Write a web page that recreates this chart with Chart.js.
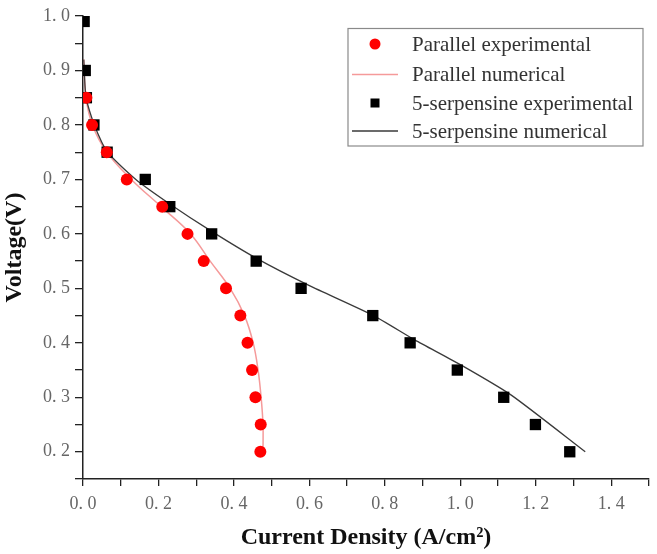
<!DOCTYPE html>
<html>
<head>
<meta charset="utf-8">
<script src="https://cdn.jsdelivr.net/npm/chart.js@4"></script>
<style>
  html,body{margin:0;padding:0;background:#fff;}
  #wrap{width:657px;height:554px;position:relative;}
</style>
</head>
<body>
<div id="wrap"><canvas id="ivChart"></canvas></div>
<script>
// ── Data ─────────────────────────────────────────────────
const parExpX = [0.009,0.024,0.063,0.116,0.21,0.277,0.32,0.379,0.417,0.436,0.448,0.457,0.471,0.470];
const parExpY = [0.85,0.80,0.75,0.70,0.65,0.60,0.55,0.50,0.45,0.40,0.35,0.30,0.25,0.20];

const parNumX = [0.002,0.008,0.025,0.063,0.128,0.207,0.285,0.337,0.39,0.428,0.451,0.464,0.472,0.477,0.477];
const parNumY = [0.92,0.85,0.80,0.75,0.70,0.65,0.60,0.55,0.50,0.45,0.40,0.35,0.30,0.25,0.20];

const serExpX = [0.003,0.006,0.009,0.029,0.064,0.165,0.230,0.341,0.459,0.578,0.768,0.867,0.992,1.115,1.199,1.29];
const serExpY = [0.99,0.90,0.85,0.80,0.75,0.70,0.65,0.60,0.55,0.50,0.45,0.40,0.35,0.30,0.25,0.20];

const serNumX = [0.002,0.008,0.03,0.065,0.14,0.23,0.34,0.46,0.60,0.77,0.88,1.0,1.135,1.331];
const serNumY = [0.92,0.85,0.80,0.75,0.70,0.655,0.605,0.555,0.505,0.45,0.405,0.36,0.304,0.20];

const xTicks = [0.0,0.2,0.4,0.6,0.8,1.0,1.2,1.4];
const yTicks = [0.2,0.3,0.4,0.5,0.6,0.7,0.8,0.9,1.0];

const LABELS = ["Parallel experimental","Parallel numerical","5-serpensine experimental","5-serpensine numerical"];

const SERIF = "'Liberation Serif','Times New Roman',serif";
const pts = (xs, ys) => xs.map((x,i)=>({x, y:ys[i]}));
const fmt = v => v.toFixed(1).replace(".", ". ");
const isTick = (list, v) => list.some(t => Math.abs(t - v) < 1e-6);

// ── Legend box drawn inside plot ─────────────────────────
const legendBox = {
  id: "legendBox",
  afterDraw(chart) {
    const ctx = chart.ctx;
    const ds = chart.data.datasets;
    ctx.save();
    ctx.strokeStyle = "#8a8a8a"; ctx.lineWidth = 1.2;
    ctx.strokeRect(348, 28.5, 295, 117.5);
    const rows = [44, 74.5, 103, 131];
    ctx.font = "21px " + SERIF;
    ctx.textBaseline = "middle";
    ds.forEach((d, i) => {
      const y = rows[i];
      if (d.showLine) {
        ctx.strokeStyle = d.borderColor; ctx.lineWidth = d.borderWidth;
        ctx.beginPath(); ctx.moveTo(352, y); ctx.lineTo(398, y); ctx.stroke();
      } else if (d.pointStyle === "circle") {
        ctx.fillStyle = d.backgroundColor;
        ctx.beginPath(); ctx.arc(375, y, 5.5, 0, Math.PI*2); ctx.fill();
      } else {
        ctx.fillStyle = d.backgroundColor;
        ctx.fillRect(370.5, y-4.5, 9, 9);
      }
      ctx.fillStyle = "#333";
      ctx.fillText(d.label, 412, y + 1);
    });
    ctx.restore();
  }
};

new Chart(document.getElementById("ivChart"), {
  type: "scatter",
  data: {
    datasets: [
      { label:LABELS[0], data:pts(parExpX,parExpY), pointStyle:"circle", pointRadius:6,
        backgroundColor:"#ff0000", borderColor:"#ff0000", borderWidth:0, showLine:false, order:1 },
      { label:LABELS[1], data:pts(parNumX,parNumY), showLine:true, pointRadius:0, tension:0.4,
        borderColor:"#f59a9a", borderWidth:1.5, order:4 },
      { label:LABELS[2], data:pts(serExpX,serExpY), pointStyle:"rect", pointRadius:8,
        backgroundColor:"#000", borderColor:"#000", borderWidth:0, showLine:false, order:2 },
      { label:LABELS[3], data:pts(serNumX,serNumY), showLine:true, pointRadius:0, tension:0.2,
        borderColor:"#3a3a3a", borderWidth:1.3, order:3 },
    ]
  },
  options: {
    responsive:true, maintainAspectRatio:false, animation:false,
    layout:{ padding:{ left:0, top:16, right:1, bottom:0 } },
    plugins:{ legend:{ display:false }, tooltip:{ enabled:false } },
    scales:{
      x:{
        type:"linear", min:0, max:1.5,
        afterFit: s => { s.height = 75; },
        border:{ color:"#222", width:1.5 },
        grid:{ drawOnChartArea:false, drawTicks:true, tickLength:7, color:"#222", lineWidth:1.3 },
        ticks:{ stepSize:0.1, autoSkip:false, maxRotation:0, padding:7, color:"#666",
                font:{ family:SERIF, size:18 },
                callback: v => isTick(xTicks, v) ? fmt(v) : "" },
        title:{ display:true, text:"Current Density (A/cm²)", color:"#111",
                font:{ family:SERIF, size:24, weight:"bold" }, padding:{ top:2, bottom:2 } }
      },
      y:{
        type:"linear", min:0.15, max:1.0,
        afterFit: s => { s.width = 83; },
        border:{ color:"#222", width:1.5 },
        grid:{ drawOnChartArea:false, drawTicks:true, tickLength:8, color:"#222", lineWidth:1.3 },
        ticks:{ stepSize:0.05, autoSkip:false, padding:5, color:"#666",
                font:{ family:SERIF, size:18 },
                callback: v => isTick(yTicks, v) ? fmt(v) : "" },
        title:{ display:true, text:"Voltage(V)", color:"#111",
                font:{ family:SERIF, size:24, weight:"bold" }, padding:{ top:0, bottom:0 } }
      }
    }
  },
  plugins:[legendBox]
});
</script>
</body>
</html>
